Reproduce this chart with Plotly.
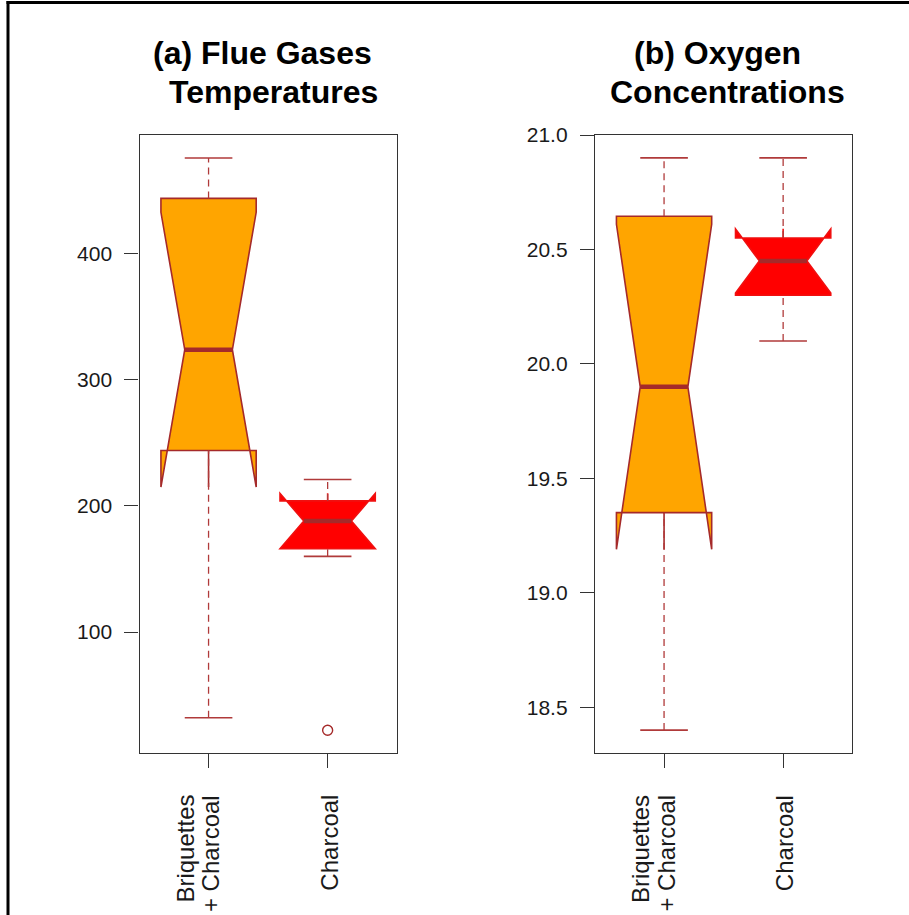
import plotly.graph_objects as go

# ---- data -------------------------------------------------------------
groups = ["Briquettes + Charcoal", "Charcoal"]
tick_labels = [["Briquettes", "+ Charcoal"], ["Charcoal"]]
positions = [1, 2]
fill_colors = ["#FFA500", "#FF0000"]
edge_colors = ["#A52A2A", "#F01010"]

# (a) flue gas temperature summaries
temp_lower = [32, 160]
temp_q1 = [244, 166]
temp_median = [324, 188]
temp_q3 = [444, 204]
temp_upper = [476, 221]
temp_notch = [109, 22]
temp_out_x = [2]
temp_out_y = [22]

# (b) oxygen concentration summaries
o2_lower = [18.4, 20.1]
o2_q1 = [19.35, 20.30]
o2_median = [19.90, 20.45]
o2_q3 = [20.645, 20.55]
o2_upper = [20.9, 20.9]
o2_notch = [0.71, 0.14]
o2_out_x = []
o2_out_y = []

temp_ticks = [100, 200, 300, 400]
o2_ticks = [18.5, 19.0, 19.5, 20.0, 20.5, 21.0]

# ---- style ------------------------------------------------------------
W, H = 909, 915
FONT = "Liberation Sans, Arial, sans-serif"
LINE = "#A52A2A"
WHISKER = "#B03A3A"
BOX_W = 0.8
CAP_W = 0.4
MED_W = 0.4
# horizontal nudge (px) of each line of each category label
label_shift = [[-24, 2], [1]]

fig = go.Figure()


def add_panel(xa, ya, lower, q1, med, q3, upper, notch, out_x, out_y):
    xref = "x" if xa == 1 else f"x{xa}"
    yref = "y" if ya == 1 else f"y{ya}"
    for i, pos in enumerate(positions):
        # notched box body
        fig.add_trace(go.Box(
            x=[pos], q1=[q1[i]], median=[med[i]], q3=[q3[i]],
            lowerfence=[q1[i]], upperfence=[q3[i]], notchspan=[notch[i]],
            notched=True, notchwidth=0.25, width=BOX_W, whiskerwidth=0,
            fillcolor=fill_colors[i],
            line=dict(color=edge_colors[i], width=1.6),
            boxpoints=False, showlegend=False, hoverinfo="skip",
            xaxis=xref, yaxis=yref,
        ))
        # dashed whiskers
        for a, b in ((q3[i], upper[i]), (lower[i], q1[i])):
            fig.add_trace(go.Scatter(
                x=[pos, pos], y=[a, b], mode="lines",
                line=dict(color=WHISKER, width=1.3, dash="7px,5px"),
                showlegend=False, hoverinfo="skip", xaxis=xref, yaxis=yref,
            ))
        # staples
        for v in (lower[i], upper[i]):
            fig.add_trace(go.Scatter(
                x=[pos - CAP_W / 2, pos + CAP_W / 2], y=[v, v], mode="lines",
                line=dict(color=WHISKER, width=1.6),
                showlegend=False, hoverinfo="skip", xaxis=xref, yaxis=yref,
            ))
        # thick median
        fig.add_trace(go.Scatter(
            x=[pos - MED_W / 2, pos + MED_W / 2], y=[med[i], med[i]],
            mode="lines", line=dict(color=LINE, width=4.5),
            showlegend=False, hoverinfo="skip", xaxis=xref, yaxis=yref,
        ))
        # rotated category label under the axis, one line at a time
        for j, part in enumerate(tick_labels[i]):
            fig.add_annotation(
                text=part, x=pos, xref=xref, y=1 - 793 / H,
                yref="paper", xanchor="center", yanchor="top",
                textangle=-90, showarrow=False, xshift=label_shift[i][j],
                font=dict(family=FONT, size=24, color="#1a1a1a"),
            )
    if out_x:
        fig.add_trace(go.Scatter(
            x=out_x, y=out_y, mode="markers",
            marker=dict(symbol="circle-open", size=10, color=LINE,
                        line=dict(width=1.4, color=LINE)),
            showlegend=False, hoverinfo="skip", xaxis=xref, yaxis=yref,
        ))


add_panel(1, 1, temp_lower, temp_q1, temp_median, temp_q3, temp_upper,
          temp_notch, temp_out_x, temp_out_y)
add_panel(2, 2, o2_lower, o2_q1, o2_median, o2_q3, o2_upper,
          o2_notch, o2_out_x, o2_out_y)

ydom = [1 - 753 / H, 1 - 135 / H]
axis_common = dict(
    showline=True, mirror=True, linecolor="#333333", linewidth=1.3,
    showgrid=False, zeroline=False, ticks="outside", ticklen=14,
    tickwidth=1.2, tickcolor="#333333", automargin=False,
    tickfont=dict(family=FONT, size=21, color="#1a1a1a"),
)
xcommon = dict(axis_common, tickmode="array", tickvals=positions,
               ticktext=["", ""], range=[0.42, 2.58])

fig.update_layout(
    width=W, height=H,
    margin=dict(l=0, r=0, t=0, b=0, pad=0, autoexpand=False),
    paper_bgcolor="white", plot_bgcolor="white",
    showlegend=False,
    xaxis=dict(xcommon, domain=[139.5 / W, 396.7 / W], anchor="y"),
    yaxis=dict(axis_common, domain=ydom, anchor="x", range=[4, 494.3],
               tickmode="array", tickvals=temp_ticks,
               ticktext=[str(t) for t in temp_ticks], ticklabelstandoff=8),
    xaxis2=dict(xcommon, domain=[595 / W, 852.2 / W], anchor="y2"),
    yaxis2=dict(axis_common, domain=ydom, anchor="x2", range=[18.3, 21.0],
                tickmode="array", tickvals=o2_ticks,
                ticktext=[f"{t:.1f}" for t in o2_ticks], ticklabelstandoff=8),
)

# panel titles, one annotation per line
titles = [
    ("(a) Flue Gases", 262, 53),
    ("Temperatures", 273.5, 92),
    ("(b) Oxygen", 717, 53),
    ("Concentrations", 727.5, 92),
]
for text, px, py in titles:
    fig.add_annotation(
        text=f"<b>{text}</b>", x=px / W, y=1 - py / H, xref="paper",
        yref="paper", xanchor="center", yanchor="middle", showarrow=False,
        font=dict(family=FONT, size=32, color="#000000"),
    )

# outer frame (left and top edges)
fig.add_shape(type="line", xref="paper", yref="paper",
              x0=8 / W, x1=8 / W, y0=0, y1=1 - 1 / H,
              line=dict(color="black", width=3))
fig.add_shape(type="line", xref="paper", yref="paper",
              x0=6.5 / W, x1=1, y0=1 - 2.5 / H, y1=1 - 2.5 / H,
              line=dict(color="black", width=3))

fig.write_html("out.html")
